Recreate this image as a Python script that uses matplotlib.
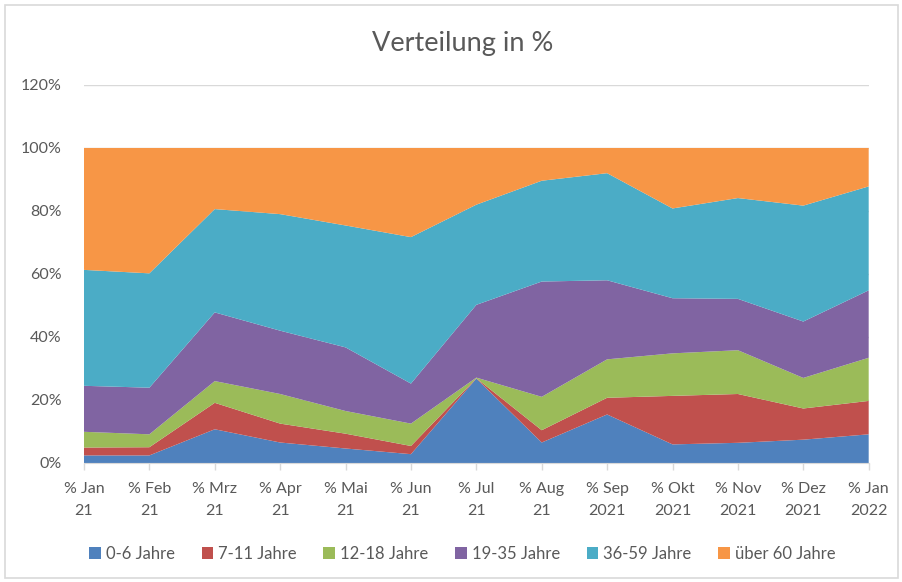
import matplotlib
matplotlib.use("Agg")
import matplotlib.pyplot as plt
from matplotlib.patches import Rectangle, Patch
from matplotlib.ticker import FuncFormatter
import numpy as np

plt.rcParams['font.family'] = ['Lato', 'DejaVu Sans']

# ---- data (share in % per month) ----
months = ["% Jan\n21", "% Feb\n21", "% Mrz\n21", "% Apr\n21", "% Mai\n21",
          "% Jun\n21", "% Jul\n21", "% Aug\n21", "% Sep\n2021", "% Okt\n2021",
          "% Nov\n2021", "% Dez\n2021", "% Jan\n2022"]
age_0_6 = [2.4, 2.4, 10.7, 6.5, 4.6, 2.8, 26.8, 6.5, 15.4, 5.9, 6.4, 7.4, 9.1]
age_7_11 = [2.5, 2.6, 8.4, 6.0, 4.7, 2.6, 0.1, 3.9, 5.3, 15.4, 15.5, 9.9, 10.6]
age_12_18 = [5.0, 4.1, 6.9, 9.4, 7.2, 7.1, 0.2, 10.6, 12.2, 13.5, 13.9, 9.7, 13.7]
age_19_35 = [14.6, 14.8, 21.8, 20.1, 20.2, 12.7, 23.1, 36.6, 25.1, 17.5, 16.3, 17.9, 21.4]
age_36_59 = [36.8, 36.3, 32.8, 37.0, 38.7, 46.5, 31.8, 32.0, 34.0, 28.5, 32.0, 36.8, 33.0]
age_60 = [38.7, 39.8, 19.4, 21.0, 24.6, 28.3, 18.0, 10.4, 8.0, 19.2, 15.9, 18.3, 12.2]

labels = ["0-6 Jahre", "7-11 Jahre", "12-18 Jahre", "19-35 Jahre",
          "36-59 Jahre", "über 60 Jahre"]
colors = ["#4F81BD", "#C0504D", "#9BBB59", "#8064A2", "#4BACC6", "#F79646"]

TXT = "#595959"
GRID = "#D9D9D9"

fig = plt.figure(figsize=(9.03, 5.82), dpi=100)
ax = fig.add_axes([0.093, 0.2045, 0.869, 0.6495])

x = np.arange(len(months))
ax.stackplot(x, age_0_6, age_7_11, age_12_18, age_19_35, age_36_59, age_60,
             colors=colors, linewidth=0, zorder=2)

ax.set_xlim(0, len(months) - 1)
ax.set_ylim(0, 120)
ax.set_yticks(np.arange(0, 121, 20))
ax.yaxis.set_major_formatter(FuncFormatter(lambda v, _: f"{v:.0f}%"))
ax.grid(axis="y", color=GRID, linewidth=1, zorder=0)
ax.set_axisbelow(True)

ax.set_xticks(x)
ax.set_xticklabels(months, linespacing=1.65)
ax.tick_params(axis="x", colors=GRID, length=5, width=1, pad=9, labelcolor=TXT,
               labelsize=11.5)
ax.tick_params(axis="y", length=0, pad=16, labelcolor=TXT, labelsize=11.5)
for s in ("top", "right", "left"):
    ax.spines[s].set_visible(False)
ax.spines["bottom"].set_color(GRID)
ax.spines["bottom"].set_zorder(3)

fig.text(0.512, 0.926, "Verteilung in %", ha="center", va="center",
         fontsize=19.5, color=TXT)

handles = [Patch(facecolor=c, edgecolor="none") for c in colors]
fig.legend(handles, labels, loc="center", bbox_to_anchor=(0.512, 0.048),
           ncol=6, frameon=False, fontsize=12, handlelength=0.7,
           handleheight=0.7, handletextpad=0.3, columnspacing=1.6,
           labelcolor=TXT)

# chart border
fig.patches.append(Rectangle((5 / 903, 4 / 582), 893 / 903, 573 / 582,
                             transform=fig.transFigure, fill=False,
                             edgecolor=GRID, linewidth=1.2))

fig.savefig("out.png", dpi=100, facecolor="white")
